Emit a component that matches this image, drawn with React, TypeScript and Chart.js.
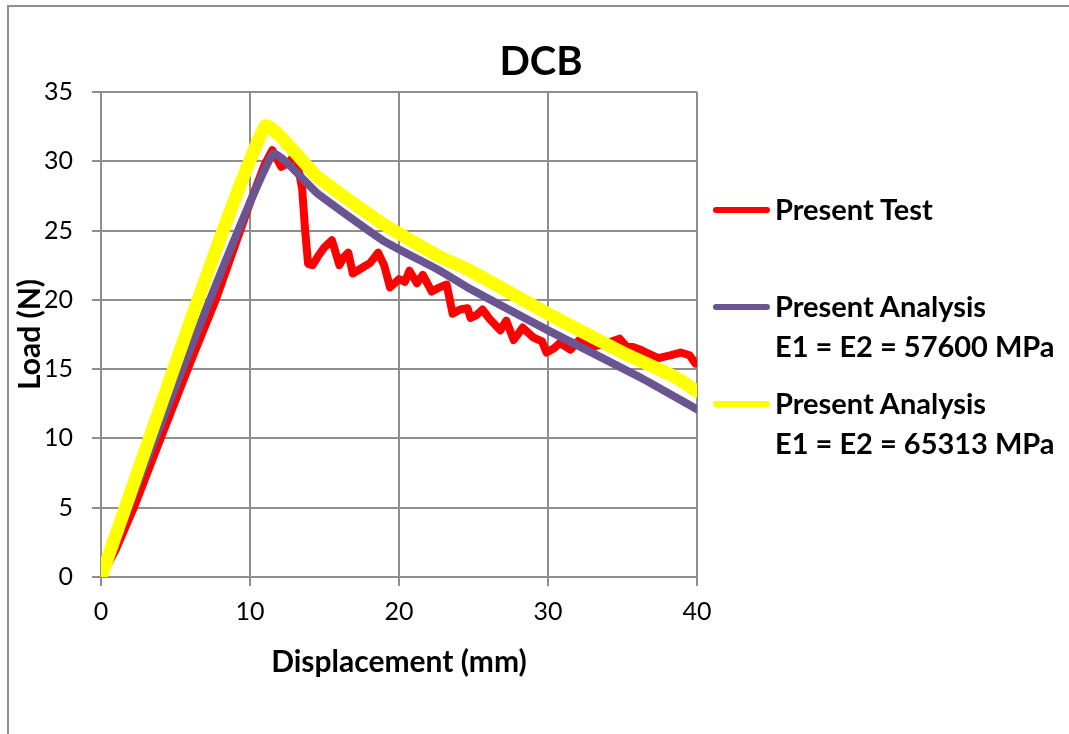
import React, { useEffect, useRef } from "react";
import { Chart, registerables } from "chart.js";

Chart.register(...registerables);

// ---- data ----
const testX = [0, 1.0, 2.2, 4.0, 6.0, 7.7, 10.0, 11.0, 11.5, 12.1, 12.6, 13.1, 13.3, 13.5, 13.6, 13.7, 13.9, 14.2, 14.6, 15.0, 15.5, 16.0, 16.3, 16.6, 16.9, 17.5, 18.05, 18.6, 19.0, 19.4, 20.0, 20.4, 20.7, 21.2, 21.6, 22.2, 22.7, 23.2, 23.6, 24.1, 24.6, 24.8, 25.2, 25.6, 26.1, 26.8, 27.2, 27.7, 28.3, 29.0, 29.6, 29.9, 30.4, 30.8, 31.5, 32.1, 32.5, 33.0, 34.0, 34.8, 35.3, 35.7, 36.2, 36.6, 37.4, 38.2, 38.9, 39.5, 39.9];
const testY = [0, 2.0, 5.0, 10.0, 15.5, 20.0, 27.0, 29.8, 30.8, 29.6, 29.9, 30.6, 29.2, 28.0, 26.5, 25.0, 22.6, 22.5, 23.2, 23.8, 24.3, 22.5, 23.1, 23.4, 21.9, 22.3, 22.65, 23.4, 22.5, 20.9, 21.5, 21.3, 22.1, 21.2, 21.8, 20.6, 20.9, 21.1, 19.0, 19.3, 19.4, 18.7, 18.9, 19.3, 18.6, 17.8, 18.5, 17.1, 18.0, 17.3, 17.0, 16.2, 16.5, 16.9, 16.4, 17.1, 16.8, 16.6, 16.9, 17.2, 16.6, 16.6, 16.4, 16.2, 15.8, 16.0, 16.2, 16.0, 15.4];

const analysis1X = [0, 11.5, 14.5, 18.9, 22.75, 24.6, 30.0, 36.2, 40.0];
const analysis1Y = [0, 30.5, 27.7, 24.3, 22.1, 20.9, 17.8, 14.4, 12.1];

const analysis2X = [0, 11.0, 14.5, 18.9, 22.75, 24.6, 30.0, 35.0, 38.4, 40.0];
const analysis2Y = [0, 32.5, 28.9, 25.5, 23.1, 22.2, 19.0, 16.2, 14.5, 13.4];

const xTicks = [0, 10, 20, 30, 40];
const yTicks = [0, 5, 10, 15, 20, 25, 30, 35];

const seriesNames = ["Present Test", "Present Analysis", "Present Analysis"];
const seriesSub = ["", "E1 = E2 = 57600 MPa", "E1 = E2 = 65313 MPa"];
const seriesColors = ["#FF0000", "#6B5591", "#FFFF00"];

const FONT = "Lato, 'Open Sans', sans-serif";
const GRID = "#8e8e8e";

const toPts = (xs: number[], ys: number[]) => xs.map((x, i) => ({ x, y: ys[i] }));

export default function App() {
  const ref = useRef<HTMLCanvasElement | null>(null);

  useEffect(() => {
    document.body.style.margin = "0";
    const canvas = ref.current;
    if (!canvas) return;
    const chart = new Chart(canvas, {
      type: "line",
      data: {
        datasets: [
          {
            label: seriesNames[0],
            data: toPts(testX, testY),
            borderColor: seriesColors[0],
            borderWidth: 8,
            pointRadius: 0,
            tension: 0,
            borderJoinStyle: "round",
            borderCapStyle: "round",
            order: 3,
          },
          {
            label: seriesNames[1],
            data: toPts(analysis1X, analysis1Y),
            borderColor: seriesColors[1],
            borderWidth: 8,
            pointRadius: 0,
            tension: 0.15,
            borderJoinStyle: "round",
            borderCapStyle: "round",
            order: 2,
          },
          {
            label: seriesNames[2],
            data: toPts(analysis2X, analysis2Y),
            borderColor: seriesColors[2],
            borderWidth: 13,
            pointRadius: 0,
            tension: 0.15,
            borderJoinStyle: "round",
            borderCapStyle: "round",
            order: 1,
          },
        ],
      },
      options: {
        animation: false,
        responsive: false,
        maintainAspectRatio: false,
        layout: { padding: { top: 92, left: 0, right: 23, bottom: 0 } },
        plugins: { legend: { display: false }, tooltip: { enabled: false }, title: { display: false } },
        scales: {
          x: {
            type: "linear",
            min: 0,
            max: 40,
            afterBuildTicks: (s: any) => {
              s.ticks = xTicks.map((v) => ({ value: v }));
            },
            afterFit: (s: any) => {
              s.height = 734 - 577;
              s.paddingLeft = 0;
              s.paddingRight = 0;
            },
            grid: { color: GRID, lineWidth: 2, tickLength: 9, tickColor: GRID },
            border: { color: GRID, width: 2 },
            ticks: { color: "#000", font: { family: FONT, size: 25 }, padding: 11, maxRotation: 0 },
            title: {
              display: true,
              text: "Displacement (mm)",
              color: "#000",
              font: { family: FONT, size: 30, weight: "bold" },
              padding: { top: 0, bottom: 54 },
            },
          },
          y: {
            type: "linear",
            min: 0,
            max: 35,
            afterBuildTicks: (s: any) => {
              s.ticks = yTicks.map((v) => ({ value: v }));
            },
            afterFit: (s: any) => {
              s.width = 101;
              s.paddingTop = 0;
              s.paddingBottom = 0;
            },
            grid: { color: GRID, lineWidth: 2, tickLength: 9, tickColor: GRID },
            border: { color: GRID, width: 2 },
            ticks: { color: "#000", font: { family: FONT, size: 25 }, padding: 19 },
            title: {
              display: true,
              text: "Load (N)",
              color: "#000",
              font: { family: FONT, size: 30, weight: "bold" },
              padding: { top: 12, bottom: 0 },
            },
          },
        },
      },
    } as any);
    return () => chart.destroy();
  }, []);

  const legendTops = [189, 286, 383];
  return (
    <div style={{ position: "relative", width: 1069, height: 734, overflow: "hidden", fontFamily: FONT, background: "#fff" }}>
      <div
        style={{
          position: "absolute",
          left: 7,
          top: 5,
          width: 1062,
          height: 729,
          borderLeft: "2px solid #8f8f8f",
          borderTop: "2px solid #8f8f8f",
          boxSizing: "border-box",
        }}
      />
      <canvas ref={ref} width={720} height={734} style={{ position: "absolute", left: 0, top: 0, width: 720, height: 734 }} />
      <div
        style={{
          position: "absolute",
          left: 441,
          top: 40,
          width: 200,
          textAlign: "center",
          fontSize: 40,
          lineHeight: "40px",
          fontWeight: "bold",
          color: "#000",
        }}
      >
        DCB
      </div>
      {seriesNames.map((name, i) => (
        <div key={i}>
          <div
            style={{
              position: "absolute",
              left: 713,
              top: legendTops[i] + 21 - 3,
              width: 57,
              height: 6,
              borderRadius: 3,
              background: seriesColors[i],
            }}
          />
          <div
            style={{
              position: "absolute",
              left: 775,
              top: legendTops[i],
              fontSize: 29,
              lineHeight: "40px",
              fontWeight: "bold",
              color: "#000",
              whiteSpace: "nowrap",
            }}
          >
            <div>{name}</div>
            {seriesSub[i] ? <div>{seriesSub[i]}</div> : null}
          </div>
        </div>
      ))}
    </div>
  );
}
